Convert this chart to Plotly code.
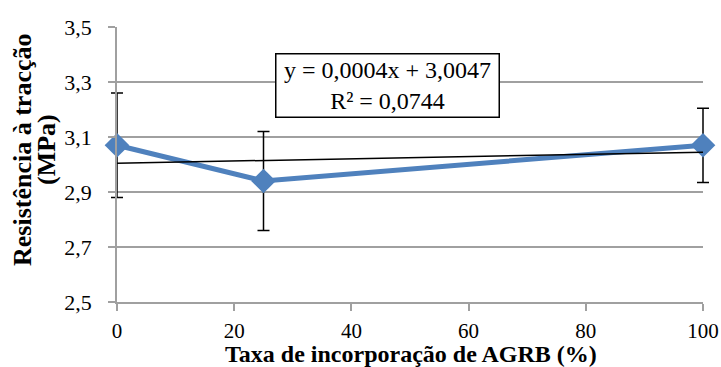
import plotly.graph_objects as go

# Tensile strength vs. AGRB incorporation rate
taxa = [0, 25, 100]
resistencia = [3.07, 2.94, 3.07]
desvio = [0.19, 0.18, 0.135]

# Linear trend reported for the series
slope = 0.0004
intercept = 3.0047
trend_x = [0, 100]
trend_y = [intercept + slope * x for x in trend_x]

y_ticks = [2.5, 2.7, 2.9, 3.1, 3.3, 3.5]
y_tick_text = ["2,5", "2,7", "2,9", "3,1", "3,3", "3,5"]
x_ticks = [0, 20, 40, 60, 80, 100]

serif = "Liberation Serif"
L, R, T, B = 117, 18, 27, 65
W, H = 721, 367
pw, ph = W - L - R, H - T - B


def px(x):
    return (x - L) / pw


def py(y):
    return (H - B - y) / ph


fig = go.Figure()

fig.add_trace(go.Scatter(
    x=taxa, y=resistencia,
    mode="lines+markers",
    line=dict(color="#4f81bd", width=5),
    marker=dict(symbol="diamond", size=19, color="#4f81bd"),
    error_y=dict(type="data", array=desvio, visible=True,
                 color="black", thickness=1.5, width=6),
    cliponaxis=False,
    showlegend=False,
))

fig.add_trace(go.Scatter(
    x=trend_x, y=trend_y,
    mode="lines",
    line=dict(color="black", width=1.5),
    showlegend=False,
))

# Trend equation box
fig.add_annotation(
    xref="paper", yref="paper", x=px(387), y=py(85),
    xanchor="center", yanchor="middle",
    text="y = 0,0004x + 3,0047<br>R² = 0,0744",
    showarrow=False,
    font=dict(family=serif, size=24, color="black"),
    width=220, height=60,
    bgcolor="white", bordercolor="black", borderwidth=1.5, borderpad=1,
    align="center", valign="middle",
)

# Axis titles
fig.add_annotation(
    xref="paper", yref="paper", x=px(411), y=py(354),
    xanchor="center", yanchor="middle",
    text="<b>Taxa de incorporação de AGRB (%)</b>",
    showarrow=False, font=dict(family=serif, size=24, color="black"),
)
fig.add_annotation(
    xref="paper", yref="paper", x=px(22), y=py(150),
    xanchor="center", yanchor="middle",
    text="<b>Resistência à tracção</b>", textangle=-90,
    showarrow=False, font=dict(family=serif, size=26, color="black"),
)
fig.add_annotation(
    xref="paper", yref="paper", x=px(46), y=py(150),
    xanchor="center", yanchor="middle",
    text="<b>(MPa)</b>", textangle=-90,
    showarrow=False, font=dict(family=serif, size=26, color="black"),
)

fig.update_layout(
    width=W, height=H,
    margin=dict(l=L, r=R, t=T, b=B, autoexpand=False),
    paper_bgcolor="white", plot_bgcolor="white",
    font=dict(family=serif, size=22, color="black"),
    xaxis=dict(
        range=[0, 100], tickvals=x_ticks, automargin=False,
        showgrid=False, zeroline=False,
        showline=True, linecolor="#a0a0a0", linewidth=1.5,
        ticks="outside", ticklen=7, tickcolor="#a0a0a0", tickwidth=1.5,
        tickfont=dict(family=serif, size=21),
        ticklabelstandoff=2,
    ),
    yaxis=dict(
        range=[2.5, 3.5], tickvals=y_ticks, ticktext=y_tick_text,
        automargin=False,
        showgrid=True, gridcolor="#a0a0a0", gridwidth=1.5,
        zeroline=False,
        showline=True, linecolor="#a0a0a0", linewidth=1.5,
        ticks="outside", ticklen=7, tickcolor="#a0a0a0", tickwidth=1.5,
        tickfont=dict(family=serif, size=22),
        ticklabelstandoff=12,
    ),
)

# Let error-bar caps at the axis ends draw past the plot edge
post = """
var gd = document.getElementById('{plot_id}');
function unclip(){ gd.querySelectorAll('.cartesianlayer [clip-path]').forEach(function(e){ e.removeAttribute('clip-path'); }); }
unclip(); setTimeout(unclip, 50);
if (gd.on) { gd.on('plotly_afterplot', unclip); }
"""
fig.write_html("out.html", post_script=post)
